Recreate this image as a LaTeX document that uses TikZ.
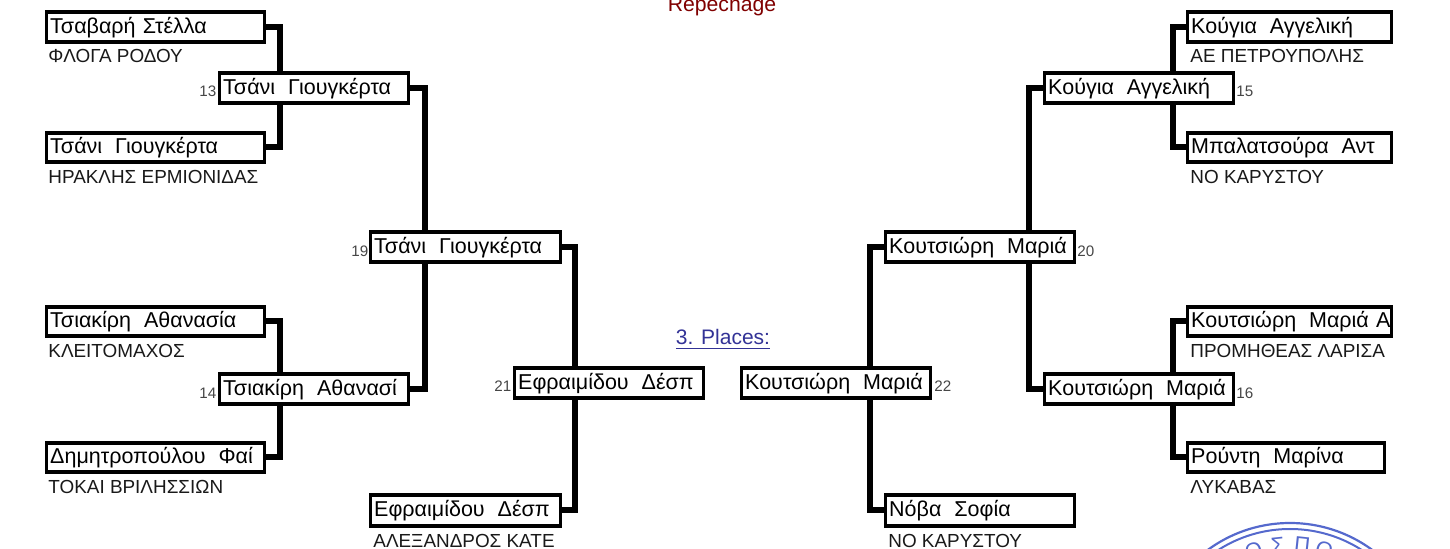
\documentclass[tikz,border=0pt]{standalone}
\usepackage{fontspec}
\setmainfont{Liberation Sans}
\usetikzlibrary{backgrounds,calc}
\definecolor{stampblue}{RGB}{85,105,205}
\definecolor{linkblue}{RGB}{50,50,150}
\definecolor{repred}{RGB}{128,0,0}
\definecolor{numgray}{RGB}{70,70,70}
\tikzset{
  px/.style={x=0.5pt,y=-0.5pt},
  boxnode/.style={draw=black,fill=white,line width=1.6pt,inner xsep=2pt,inner ysep=0pt,
    align=left,anchor=center,text height=6.4pt,text depth=0pt,font=\fontsize{10.75}{12}\selectfont},
  clubtext/.style={anchor=base west,inner sep=0pt,font=\fontsize{9.45}{11}\selectfont,text=black!90},
  numtext/.style={anchor=base west,inner sep=0pt,font=\fontsize{7.6}{9}\selectfont,text=numgray},
  trunk/.style={line width=3pt,draw=black,line join=miter},
  sealtext/.style={inner sep=0pt,anchor=base,text=stampblue,font=\fontsize{11}{13}\selectfont}
}
% name, x1, y1, x2, y2 (centre line of the border), text
\newcommand{\bx}[6]{%
  \pgfmathsetmacro{\bxw}{(#4-#2)*0.5-4-0.2}%
  \pgfmathsetmacro{\bxh}{(#5-#3)*0.5}%
  \node[boxnode,text width=\bxw pt,minimum height=\bxh pt] (#1) at ({(#2+#4)/2},{(#3+#5)/2}) {\mbox{#6}};}
\newcommand{\dsp}{\hspace{0.6em}}
\begin{document}
\begin{tikzpicture}[px]
\useasboundingbox (0,0) rectangle (1450,549);
\clip (0,0) rectangle (1450,549);
% boxes
\bx{la}{46}{12}{265}{42}{Τσαβαρή Στέλλα}
\bx{lb}{46}{133}{265}{162}{Τσάνι\dsp Γιουγκέρτα}
\bx{lc}{46}{307}{265}{336}{Τσιακίρη\dsp Αθανασία}
\bx{ld}{46}{443}{265}{472}{Δημητροπούλου\dsp Φαί}
\bx{wa}{219}{73}{409}{103}{Τσάνι\dsp Γιουγκέρτα}
\bx{wb}{219}{374}{409}{404}{Τσιακίρη\dsp Αθανασί}
\bx{sa}{370}{232}{561}{262}{Τσάνι\dsp Γιουγκέρτα}
\bx{sb}{370}{495}{561}{526}{Εφραιμίδου\dsp Δέσπ}
\bx{fa}{514}{368}{704}{398}{Εφραιμίδου\dsp Δέσπ}
\bx{fb}{741}{368}{931}{398}{Κουτσιώρη\dsp Μαριά}
\bx{sc}{885}{232}{1075}{262}{Κουτσιώρη\dsp Μαριά}
\bx{sd}{885}{495}{1075}{526}{Νόβα\dsp Σοφία}
\bx{wc}{1044}{73}{1234}{103}{Κούγια\dsp Αγγελική}
\bx{wd}{1044}{374}{1234}{404}{Κουτσιώρη\dsp Μαριά}
\bx{ra}{1187}{12}{1392}{42}{Κούγια\dsp Αγγελική}
\bx{rb}{1187}{133}{1392}{162}{Μπαλατσούρα\dsp Αντ}
\bx{rc}{1187}{307}{1392}{336}{Κουτσιώρη\dsp Μαριά Α}
\bx{rd}{1187}{443}{1385}{472}{Ρούντη\dsp Μαρίνα}
% trunks
\coordinate (ta) at (280,88);
\coordinate (tb) at (280,389);
\coordinate (tc) at (425,247);
\coordinate (td) at (575,383);
\coordinate (te) at (870,383);
\coordinate (tf) at (1029,247);
\coordinate (tg) at (1173,88);
\coordinate (th) at (1173,389);
\begin{pgfonlayer}{background}
\draw[trunk] (la.east) -| (ta) |- (lb.east);
\draw[trunk] (lc.east) -| (tb) |- (ld.east);
\draw[trunk] (wa.east) -| (tc) |- (wb.east);
\draw[trunk] (sa.east) -| (td) |- (sb.east);
\draw[trunk] (sc.west) -| (te) |- (sd.west);
\draw[trunk] (wc.west) -| (tf) |- (wd.west);
\draw[trunk] (ra.west) -| (tg) |- (rb.west);
\draw[trunk] (rc.west) -| (th) |- (rd.west);
\end{pgfonlayer}
% clubs
\node[clubtext] (c1) at (48,63) {ΦΛΟΓΑ ΡΟΔΟΥ};
\node[clubtext] (c2) at (48,184) {ΗΡΑΚΛΗΣ ΕΡΜΙΟΝΙΔΑΣ};
\node[clubtext] (c3) at (48,358) {ΚΛΕΙΤΟΜΑΧΟΣ};
\node[clubtext] (c4) at (48,494) {ΤΟΚΑΙ ΒΡΙΛΗΣΣΙΩΝ};
\node[clubtext] (c5) at (373,547) {ΑΛΕΞΑΝΔΡΟΣ ΚΑΤΕ};
\node[clubtext] (c6) at (888,547) {ΝΟ ΚΑΡΥΣΤΟΥ};
\node[clubtext] (c7) at (1190,63) {ΑΕ ΠΕΤΡΟΥΠΟΛΗΣ};
\node[clubtext] (c8) at (1190,184) {ΝΟ ΚΑΡΥΣΤΟΥ};
\node[clubtext] (c9) at (1190,358) {ΠΡΟΜΗΘΕΑΣ ΛΑΡΙΣΑ};
\node[clubtext] (c10) at (1190,494) {ΛΥΚΑΒΑΣ};
% numbers
\node[numtext] (n13) at (199,97) {13};
\node[numtext] (n14) at (199,399) {14};
\node[numtext] (n19) at (351,257) {19};
\node[numtext] (n21) at (494,392) {21};
\node[numtext] (n22) at (934,392) {22};
\node[numtext] (n20) at (1077,257) {20};
\node[numtext] (n15) at (1236,97) {15};
\node[numtext] (n16) at (1236,399) {16};
% headings
\node[anchor=base,inner sep=0pt,font=\fontsize{10.6}{12}\selectfont,text=repred] (rep) at (722,12) {Repechage};
\node[anchor=base,inner sep=0pt,font=\fontsize{10.5}{12}\selectfont,text=linkblue] (pl) at (723,345) {\underline{3. Places:}};
% seal
\coordinate (seal) at (1290,662);
\draw[stampblue,line width=1.1pt] (seal) circle (139);
\draw[stampblue,line width=1pt] (seal) circle (133);
\node[sealtext,rotate=18] (sl1) at ({1290+110*sin(-18)},{662-110*cos(-18)}) {Ο};
\node[sealtext,rotate=6] (sl2) at ({1290+110*sin(-6)},{662-110*cos(-6)}) {Σ};
\node[sealtext,rotate=-6] (sl3) at ({1290+110*sin(6)},{662-110*cos(6)}) {Π};
\node[sealtext,rotate=-17] (sl4) at ({1290+110*sin(17)},{662-110*cos(17)}) {Ο};
\end{tikzpicture}
\end{document}
